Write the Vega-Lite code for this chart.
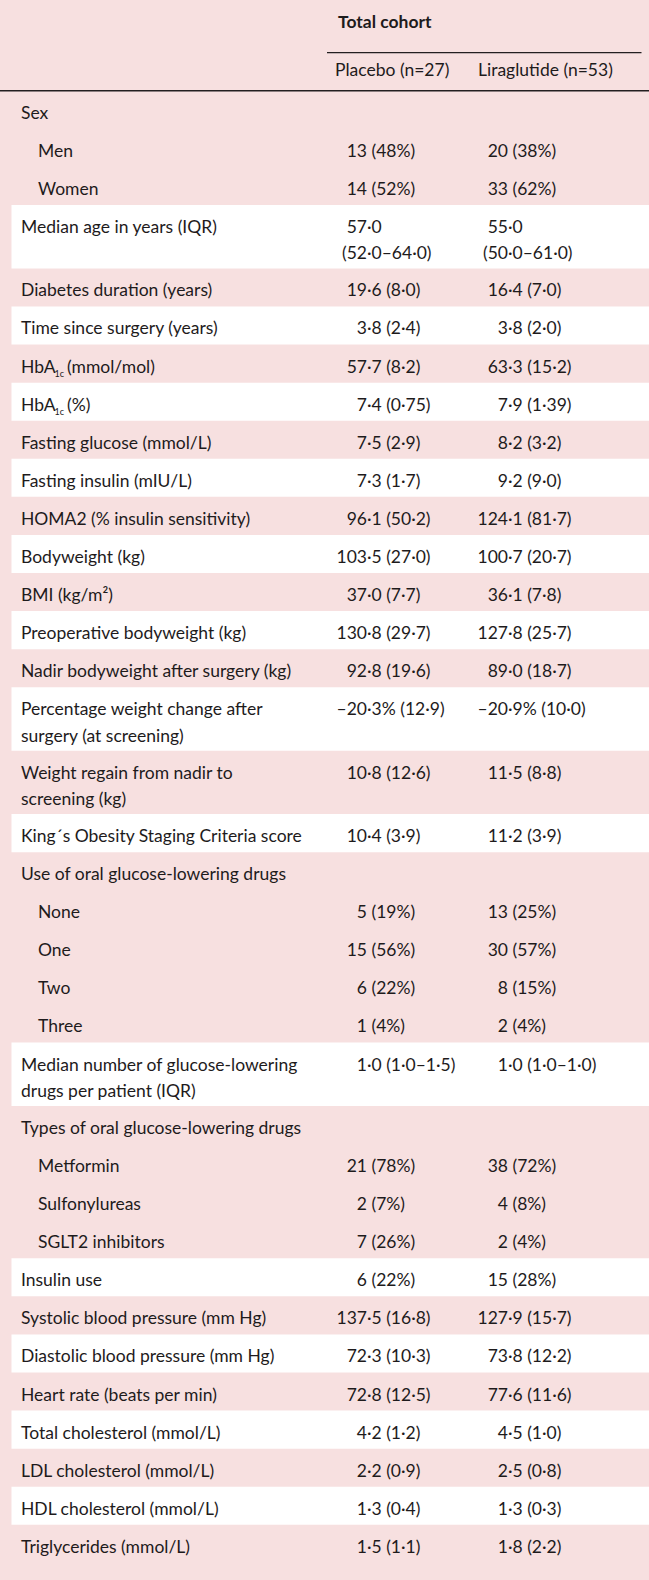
{
  "$schema": "https://vega.github.io/schema/vega-lite/v6.json",
  "width": 649,
  "height": 1580,
  "padding": 0,
  "autosize": {"type": "none"},
  "background": "#f7e0e0",
  "config": {"view": {"stroke": null}, "text": {"font": "Lato", "fontSize": 17.5, "fill": "#1e1b1c"}},
  "datasets": {
    "rows": [
      {"k": 1, "kind": "h1", "lines": 1, "shade": "p", "lab": "Total cohort"},
      {"k": 2, "kind": "h2", "lines": 1, "shade": "p", "ph": "Placebo (n=27)", "lh": "Liraglutide (n=53)"},
      {"k": 3, "kind": "r", "lines": 1, "shade": "p", "lab": "Sex"},
      {"k": 4, "kind": "r", "lines": 1, "shade": "p", "lab": "Men", "ind": true, "pi": "13", "pd": "\u200b\u00a0(48%)", "li": "20", "ld": "\u200b\u00a0(38%)"},
      {"k": 5, "kind": "r", "lines": 1, "shade": "p", "lab": "Women", "ind": true, "pi": "14", "pd": "\u200b\u00a0(52%)", "li": "33", "ld": "\u200b\u00a0(62%)"},
      {"k": 6, "kind": "r", "lines": 2, "shade": "w", "lab": "Median age in years (IQR)", "pi": ["57", "(52"], "pd": ["·0", "·0–64·0)"], "li": ["55", "(50"], "ld": ["·0", "·0–61·0)"]},
      {"k": 7, "kind": "r", "lines": 1, "shade": "p", "lab": "Diabetes duration (years)", "pi": "19", "pd": "·6 (8·0)", "li": "16", "ld": "·4 (7·0)"},
      {"k": 8, "kind": "r", "lines": 1, "shade": "w", "lab": "Time since surgery (years)", "pi": "3", "pd": "·8 (2·4)", "li": "3", "ld": "·8 (2·0)"},
      {"k": 9, "kind": "r", "lines": 1, "shade": "p", "lab": "HbA", "sub": "1c", "post": "(mmol/mol)", "pi": "57", "pd": "·7 (8·2)", "li": "63", "ld": "·3 (15·2)"},
      {"k": 10, "kind": "r", "lines": 1, "shade": "w", "lab": "HbA", "sub": "1c", "post": "(%)", "pi": "7", "pd": "·4 (0·75)", "li": "7", "ld": "·9 (1·39)"},
      {"k": 11, "kind": "r", "lines": 1, "shade": "p", "lab": "Fasting glucose (mmol/L)", "pi": "7", "pd": "·5 (2·9)", "li": "8", "ld": "·2 (3·2)"},
      {"k": 12, "kind": "r", "lines": 1, "shade": "w", "lab": "Fasting insulin (mIU/L)", "pi": "7", "pd": "·3 (1·7)", "li": "9", "ld": "·2 (9·0)"},
      {"k": 13, "kind": "r", "lines": 1, "shade": "p", "lab": "HOMA2 (% insulin sensitivity)", "pi": "96", "pd": "·1 (50·2)", "li": "124", "ld": "·1 (81·7)"},
      {"k": 14, "kind": "r", "lines": 1, "shade": "w", "lab": "Bodyweight (kg)", "pi": "103", "pd": "·5 (27·0)", "li": "100", "ld": "·7 (20·7)"},
      {"k": 15, "kind": "r", "lines": 1, "shade": "p", "lab": "BMI (kg/m²)", "pi": "37", "pd": "·0 (7·7)", "li": "36", "ld": "·1 (7·8)"},
      {"k": 16, "kind": "r", "lines": 1, "shade": "w", "lab": "Preoperative bodyweight (kg)", "pi": "130", "pd": "·8 (29·7)", "li": "127", "ld": "·8 (25·7)"},
      {"k": 17, "kind": "r", "lines": 1, "shade": "p", "lab": "Nadir bodyweight after surgery (kg)", "pi": "92", "pd": "·8 (19·6)", "li": "89", "ld": "·0 (18·7)"},
      {"k": 18, "kind": "r", "lines": 2, "shade": "w", "lab": ["Percentage weight change after", "surgery (at screening)"], "pi": "–20", "pd": "·3% (12·9)", "li": "–20", "ld": "·9% (10·0)"},
      {"k": 19, "kind": "r", "lines": 2, "shade": "p", "lab": ["Weight regain from nadir to", "screening (kg)"], "pi": "10", "pd": "·8 (12·6)", "li": "11", "ld": "·5 (8·8)"},
      {"k": 20, "kind": "r", "lines": 1, "shade": "w", "lab": "King´s Obesity Staging Criteria score", "pi": "10", "pd": "·4 (3·9)", "li": "11", "ld": "·2 (3·9)"},
      {"k": 21, "kind": "r", "lines": 1, "shade": "p", "lab": "Use of oral glucose-lowering drugs"},
      {"k": 22, "kind": "r", "lines": 1, "shade": "p", "lab": "None", "ind": true, "pi": "5", "pd": "\u200b\u00a0(19%)", "li": "13", "ld": "\u200b\u00a0(25%)"},
      {"k": 23, "kind": "r", "lines": 1, "shade": "p", "lab": "One", "ind": true, "pi": "15", "pd": "\u200b\u00a0(56%)", "li": "30", "ld": "\u200b\u00a0(57%)"},
      {"k": 24, "kind": "r", "lines": 1, "shade": "p", "lab": "Two", "ind": true, "pi": "6", "pd": "\u200b\u00a0(22%)", "li": "8", "ld": "\u200b\u00a0(15%)"},
      {"k": 25, "kind": "r", "lines": 1, "shade": "p", "lab": "Three", "ind": true, "pi": "1", "pd": "\u200b\u00a0(4%)", "li": "2", "ld": "\u200b\u00a0(4%)"},
      {"k": 26, "kind": "r", "lines": 2, "shade": "w", "lab": ["Median number of glucose-lowering", "drugs per patient (IQR)"], "pi": "1", "pd": "·0 (1·0–1·5)", "li": "1", "ld": "·0 (1·0–1·0)"},
      {"k": 27, "kind": "r", "lines": 1, "shade": "p", "lab": "Types of oral glucose-lowering drugs"},
      {"k": 28, "kind": "r", "lines": 1, "shade": "p", "lab": "Metformin", "ind": true, "pi": "21", "pd": "\u200b\u00a0(78%)", "li": "38", "ld": "\u200b\u00a0(72%)"},
      {"k": 29, "kind": "r", "lines": 1, "shade": "p", "lab": "Sulfonylureas", "ind": true, "pi": "2", "pd": "\u200b\u00a0(7%)", "li": "4", "ld": "\u200b\u00a0(8%)"},
      {"k": 30, "kind": "r", "lines": 1, "shade": "p", "lab": "SGLT2 inhibitors", "ind": true, "pi": "7", "pd": "\u200b\u00a0(26%)", "li": "2", "ld": "\u200b\u00a0(4%)"},
      {"k": 31, "kind": "r", "lines": 1, "shade": "w", "lab": "Insulin use", "pi": "6", "pd": "\u200b\u00a0(22%)", "li": "15", "ld": "\u200b\u00a0(28%)"},
      {"k": 32, "kind": "r", "lines": 1, "shade": "p", "lab": "Systolic blood pressure (mm Hg)", "pi": "137", "pd": "·5 (16·8)", "li": "127", "ld": "·9 (15·7)"},
      {"k": 33, "kind": "r", "lines": 1, "shade": "w", "lab": "Diastolic blood pressure (mm Hg)", "pi": "72", "pd": "·3 (10·3)", "li": "73", "ld": "·8 (12·2)"},
      {"k": 34, "kind": "r", "lines": 1, "shade": "p", "lab": "Heart rate (beats per min)", "pi": "72", "pd": "·8 (12·5)", "li": "77", "ld": "·6 (11·6)"},
      {"k": 35, "kind": "r", "lines": 1, "shade": "w", "lab": "Total cholesterol (mmol/L)", "pi": "4", "pd": "·2 (1·2)", "li": "4", "ld": "·5 (1·0)"},
      {"k": 36, "kind": "r", "lines": 1, "shade": "p", "lab": "LDL cholesterol (mmol/L)", "pi": "2", "pd": "·2 (0·9)", "li": "2", "ld": "·5 (0·8)"},
      {"k": 37, "kind": "r", "lines": 1, "shade": "w", "lab": "HDL cholesterol (mmol/L)", "pi": "1", "pd": "·3 (0·4)", "li": "1", "ld": "·3 (0·3)"},
      {"k": 38, "kind": "r", "lines": 1, "shade": "p", "lab": "Triglycerides (mmol/L)", "pi": "1", "pd": "·5 (1·1)", "li": "1", "ld": "·8 (2·2)"}
    ]
  },
  "data": {"name": "rows"},
  "transform": [
    {"calculate": "2 * datum.lines + 1", "as": "u"},
    {"window": [{"op": "sum", "field": "u", "as": "end"}], "sort": [{"field": "k"}], "frame": [null, 0]},
    {"calculate": "datum.end - datum.u", "as": "start"}
  ],
  "layer": [
    {
      "transform": [{"filter": "datum.shade == 'w'"}],
      "mark": {"type": "rect", "fill": "#ffffff"},
      "encoding": {
        "x": {"datum": 11.5, "type": "quantitative", "scale": {"domain": [0, 649], "nice": false, "zero": false}, "axis": null},
        "x2": {"datum": 649},
        "y": {"field": "start", "type": "quantitative", "scale": {"domain": [-1.15, 123.35], "reverse": true, "nice": false, "zero": false}, "axis": null},
        "y2": {"field": "end"}
      }
    },
    {
      "transform": [{"filter": "datum.kind == 'h1'"}],
      "mark": {"type": "rule", "stroke": "#231f20", "strokeWidth": 1.3},
      "encoding": {
        "x": {"datum": 327, "type": "quantitative", "scale": {"domain": [0, 649], "nice": false, "zero": false}, "axis": null},
        "x2": {"datum": 641.5},
        "y": {"field": "end", "type": "quantitative", "scale": {"domain": [-1.15, 123.35], "reverse": true, "nice": false, "zero": false}, "axis": null}
      }
    },
    {
      "transform": [{"filter": "datum.kind == 'h2'"}],
      "mark": {"type": "rule", "stroke": "#231f20", "strokeWidth": 1.3},
      "encoding": {
        "x": {"datum": 0, "type": "quantitative", "scale": {"domain": [0, 649], "nice": false, "zero": false}, "axis": null},
        "x2": {"datum": 649},
        "y": {"field": "end", "type": "quantitative", "scale": {"domain": [-1.15, 123.35], "reverse": true, "nice": false, "zero": false}, "axis": null}
      }
    },
    {
      "transform": [{"filter": "datum.kind == 'h1'"}],
      "mark": {"type": "text", "align": "left", "baseline": "top", "dy": -1, "fontWeight": "bold"},
      "encoding": {
        "x": {"datum": 338, "type": "quantitative", "scale": {"domain": [0, 649], "nice": false, "zero": false}, "axis": null},
        "y": {"field": "start", "type": "quantitative", "scale": {"domain": [-1.15, 123.35], "reverse": true, "nice": false, "zero": false}, "axis": null},
        "text": {"field": "lab"}
      }
    },
    {
      "transform": [{"filter": "datum.kind == 'h2'"}],
      "mark": {"type": "text", "align": "left", "baseline": "top", "dy": 9},
      "encoding": {
        "x": {"datum": 335, "type": "quantitative", "scale": {"domain": [0, 649], "nice": false, "zero": false}, "axis": null},
        "y": {"field": "start", "type": "quantitative", "scale": {"domain": [-1.15, 123.35], "reverse": true, "nice": false, "zero": false}, "axis": null},
        "text": {"field": "ph"}
      }
    },
    {
      "transform": [{"filter": "datum.kind == 'h2'"}],
      "mark": {"type": "text", "align": "left", "baseline": "top", "dy": 9},
      "encoding": {
        "x": {"datum": 478, "type": "quantitative", "scale": {"domain": [0, 649], "nice": false, "zero": false}, "axis": null},
        "y": {"field": "start", "type": "quantitative", "scale": {"domain": [-1.15, 123.35], "reverse": true, "nice": false, "zero": false}, "axis": null},
        "text": {"field": "lh"}
      }
    },
    {
      "transform": [{"filter": "datum.kind == 'r' && !datum.ind"}],
      "mark": {"type": "text", "align": "left", "baseline": "top", "dy": 14, "lineHeight": 26.5},
      "encoding": {
        "x": {"datum": 21, "type": "quantitative", "scale": {"domain": [0, 649], "nice": false, "zero": false}, "axis": null},
        "y": {"field": "start", "type": "quantitative", "scale": {"domain": [-1.15, 123.35], "reverse": true, "nice": false, "zero": false}, "axis": null},
        "text": {"field": "lab"}
      }
    },
    {
      "transform": [{"filter": "datum.kind == 'r' && datum.ind"}],
      "mark": {"type": "text", "align": "left", "baseline": "top", "dy": 14, "lineHeight": 26.5},
      "encoding": {
        "x": {"datum": 38, "type": "quantitative", "scale": {"domain": [0, 649], "nice": false, "zero": false}, "axis": null},
        "y": {"field": "start", "type": "quantitative", "scale": {"domain": [-1.15, 123.35], "reverse": true, "nice": false, "zero": false}, "axis": null},
        "text": {"field": "lab"}
      }
    },
    {
      "transform": [{"filter": "datum.sub"}],
      "mark": {"type": "text", "align": "left", "baseline": "top", "dy": 25, "fontSize": 9},
      "encoding": {
        "x": {"datum": 54.5, "type": "quantitative", "scale": {"domain": [0, 649], "nice": false, "zero": false}, "axis": null},
        "y": {"field": "start", "type": "quantitative", "scale": {"domain": [-1.15, 123.35], "reverse": true, "nice": false, "zero": false}, "axis": null},
        "text": {"field": "sub"}
      }
    },
    {
      "transform": [{"filter": "datum.post"}],
      "mark": {"type": "text", "align": "left", "baseline": "top", "dy": 14},
      "encoding": {
        "x": {"datum": 67, "type": "quantitative", "scale": {"domain": [0, 649], "nice": false, "zero": false}, "axis": null},
        "y": {"field": "start", "type": "quantitative", "scale": {"domain": [-1.15, 123.35], "reverse": true, "nice": false, "zero": false}, "axis": null},
        "text": {"field": "post"}
      }
    },
    {
      "transform": [{"filter": "datum.pi"}],
      "mark": {"type": "text", "align": "right", "baseline": "top", "dy": 14, "lineHeight": 26.5},
      "encoding": {
        "x": {"datum": 367, "type": "quantitative", "scale": {"domain": [0, 649], "nice": false, "zero": false}, "axis": null},
        "y": {"field": "start", "type": "quantitative", "scale": {"domain": [-1.15, 123.35], "reverse": true, "nice": false, "zero": false}, "axis": null},
        "text": {"field": "pi"}
      }
    },
    {
      "transform": [{"filter": "datum.pd"}],
      "mark": {"type": "text", "align": "left", "baseline": "top", "dy": 14, "lineHeight": 26.5},
      "encoding": {
        "x": {"datum": 367, "type": "quantitative", "scale": {"domain": [0, 649], "nice": false, "zero": false}, "axis": null},
        "y": {"field": "start", "type": "quantitative", "scale": {"domain": [-1.15, 123.35], "reverse": true, "nice": false, "zero": false}, "axis": null},
        "text": {"field": "pd"}
      }
    },
    {
      "transform": [{"filter": "datum.li"}],
      "mark": {"type": "text", "align": "right", "baseline": "top", "dy": 14, "lineHeight": 26.5},
      "encoding": {
        "x": {"datum": 508, "type": "quantitative", "scale": {"domain": [0, 649], "nice": false, "zero": false}, "axis": null},
        "y": {"field": "start", "type": "quantitative", "scale": {"domain": [-1.15, 123.35], "reverse": true, "nice": false, "zero": false}, "axis": null},
        "text": {"field": "li"}
      }
    },
    {
      "transform": [{"filter": "datum.ld"}],
      "mark": {"type": "text", "align": "left", "baseline": "top", "dy": 14, "lineHeight": 26.5},
      "encoding": {
        "x": {"datum": 508, "type": "quantitative", "scale": {"domain": [0, 649], "nice": false, "zero": false}, "axis": null},
        "y": {"field": "start", "type": "quantitative", "scale": {"domain": [-1.15, 123.35], "reverse": true, "nice": false, "zero": false}, "axis": null},
        "text": {"field": "ld"}
      }
    }
  ]
}
